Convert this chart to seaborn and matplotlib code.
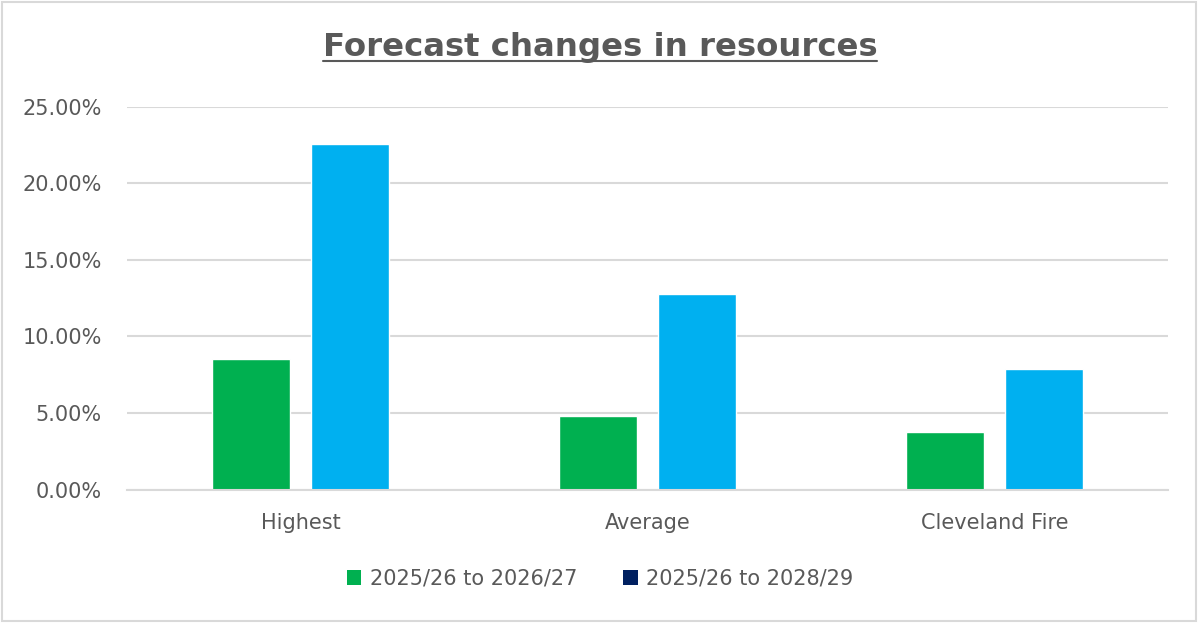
import matplotlib
matplotlib.use("Agg")
import matplotlib.pyplot as plt
import seaborn as sns
import pandas as pd
from matplotlib.ticker import PercentFormatter, MultipleLocator
from matplotlib.patches import Patch, Rectangle
from matplotlib.lines import Line2D

categories = ["Highest", "Average", "Cleveland Fire"]
series_names = ["2025/26 to 2026/27", "2025/26 to 2028/29"]
short_term = [0.0851, 0.0483, 0.0377]
long_term = [0.2256, 0.1277, 0.0786]

bar_colors = ["#00B050", "#00B0F0"]
legend_colors = ["#00B050", "#002060"]
text_color = "#595959"
grid_color = "#D9D9D9"

df = pd.DataFrame({
    "category": categories * 2,
    "series": [series_names[0]] * 3 + [series_names[1]] * 3,
    "value": short_term + long_term,
})

sns.set_theme(style="white")
plt.rcParams["font.family"] = ["DejaVu Sans"]

fig = plt.figure(figsize=(12, 6.23), dpi=100)
ax = fig.add_axes([0.1058, 0.214, 0.9733 - 0.1058, 0.8287 - 0.214])

sns.barplot(data=df, x="category", y="value", hue="series", order=categories,
            hue_order=series_names, palette=bar_colors, width=0.57, gap=0.21,
            ax=ax, legend=False, saturation=1)

ax.set_ylim(0, 0.25)
ax.set_xlim(-0.5, 2.5)
ax.yaxis.set_major_locator(MultipleLocator(0.05))
ax.yaxis.set_major_formatter(PercentFormatter(xmax=1, decimals=2))
ax.grid(axis="y", color=grid_color, linewidth=1.5)
ax.set_axisbelow(True)
for s in ["top", "right", "left"]:
    ax.spines[s].set_visible(False)
ax.spines["bottom"].set_color(grid_color)
ax.spines["bottom"].set_linewidth(1.5)
ax.set_xlabel("")
ax.set_ylabel("")
ax.tick_params(axis="y", length=0, pad=18, labelsize=15, labelcolor=text_color)
ax.tick_params(axis="x", length=0, pad=17, labelsize=15, labelcolor=text_color)

# Title with underline
title = fig.text(0.5, 0.924, "Forecast changes in resources", ha="center", va="center",
                 fontsize=23.3, fontweight="bold", color=text_color)
fig.canvas.draw()
bb = title.get_window_extent(renderer=fig.canvas.get_renderer())
inv = fig.transFigure.inverted()
(x0, y0), (x1, y1) = inv.transform([(bb.x0, bb.y0), (bb.x1, bb.y1)])
fig.add_artist(Line2D([x0, x1], [y0 + 0.003, y0 + 0.003], transform=fig.transFigure,
                      color=text_color, linewidth=1.5))

handles = [Patch(facecolor=c, edgecolor="none") for c in legend_colors]
fig.legend(handles, series_names, loc="center", bbox_to_anchor=(0.5, 0.071), ncol=2,
           frameon=False, fontsize=15, labelcolor=text_color, handlelength=0.7,
           handleheight=0.7, handletextpad=0.4, columnspacing=2.2)

fig.add_artist(Rectangle((0.002, 0.003), 0.995, 0.994, transform=fig.transFigure,
                         fill=False, edgecolor=grid_color, linewidth=1.5))

fig.savefig("out.png", dpi=100, facecolor="white")
